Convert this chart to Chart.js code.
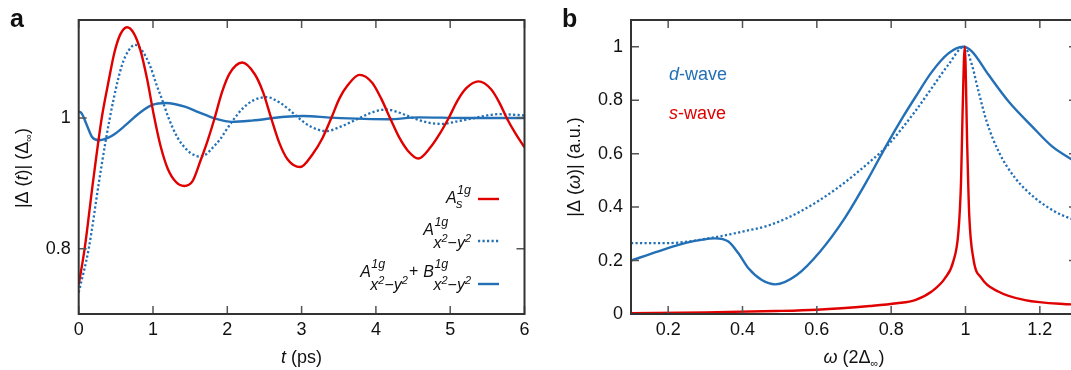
<!DOCTYPE html>
<html>
<head>
<meta charset="utf-8">
<script src="https://cdn.jsdelivr.net/npm/chart.js@4.4.1/dist/chart.umd.min.js"></script>
<style>
  html, body { margin: 0; padding: 0; background: #fff; overflow: hidden; width: 1071px; height: 370px; }
  #wrapA { position: absolute; left: 0; top: 0; width: 540px; height: 370px; }
  #wrapB { position: absolute; left: 540px; top: 0; width: 545px; height: 370px; }
</style>
</head>
<body>
<div id="wrapA"><canvas id="chartA" width="540" height="370"></canvas></div>
<div id="wrapB"><canvas id="chartB" width="545" height="370"></canvas></div>
<script>
// panel a : |Delta(t)| after the quench
const timeRed = [0, 0.08, 0.19, 0.31, 0.40, 0.48, 0.56, 0.65, 0.74, 0.83, 0.92, 1.01, 1.10, 1.20, 1.31, 1.42, 1.53, 1.64, 1.74, 1.83, 1.93, 2.03, 2.20, 2.37, 2.48, 2.59, 2.70, 2.81, 2.98, 3.15, 3.28, 3.40, 3.51, 3.62, 3.78, 3.95, 4.07, 4.19, 4.31, 4.43, 4.57, 4.74, 4.86, 4.98, 5.10, 5.22, 5.38, 5.55, 5.66, 5.76, 5.88, 6.00];
const gapRed = [0.745, 0.80, 0.90, 1.00, 1.055, 1.10, 1.128, 1.139, 1.130, 1.104, 1.060, 1.005, 0.958, 0.922, 0.902, 0.896, 0.903, 0.935, 0.967, 1.00, 1.040, 1.068, 1.085, 1.067, 1.040, 1.00, 0.962, 0.937, 0.925, 0.945, 0.969, 1.00, 1.030, 1.050, 1.066, 1.054, 1.030, 1.00, 0.971, 0.950, 0.938, 0.956, 0.976, 1.00, 1.027, 1.046, 1.056, 1.044, 1.024, 1.00, 0.976, 0.955];

const timeDot = [0, 0.135, 0.27, 0.36, 0.47, 0.58, 0.67, 0.76, 0.86, 0.96, 1.05, 1.12, 1.21, 1.33, 1.45, 1.54, 1.63, 1.72, 1.79, 1.90, 2.00, 2.10, 2.22, 2.35, 2.53, 2.70, 2.82, 2.96, 3.12, 3.33, 3.55, 3.78, 3.96, 4.14, 4.32, 4.50, 4.70, 4.89, 5.10, 5.33, 5.50, 5.67, 5.85, 6.00];
const gapDot = [0.733, 0.80, 0.90, 0.963, 1.029, 1.08, 1.103, 1.112, 1.102, 1.08, 1.050, 1.029, 1.00, 0.970, 0.952, 0.944, 0.941, 0.945, 0.953, 0.967, 0.984, 1.00, 1.016, 1.027, 1.032, 1.024, 1.014, 1.00, 0.987, 0.980, 0.988, 1.00, 1.009, 1.013, 1.008, 1.00, 0.993, 0.991, 0.995, 1.00, 1.004, 1.006, 1.005, 1.004];

const timeMix = [0, 0.04, 0.11, 0.18, 0.27, 0.40, 0.49, 0.63, 0.81, 0.99, 1.17, 1.44, 1.61, 1.84, 2.06, 2.33, 2.78, 3.03, 3.40, 4.16, 4.57, 5.20, 6.00];
const gapMix = [1.010, 1.007, 0.989, 0.971, 0.966, 0.970, 0.976, 0.989, 1.007, 1.020, 1.023, 1.017, 1.009, 0.999, 0.994, 0.996, 1.002, 1.003, 1.0005, 0.998, 1.001, 1.000, 1.000];

const ticksTimeX = [0, 1, 2, 3, 4, 5, 6];
const ticksGapY = [0.8, 1];

// panel b : spectra |Delta(omega)|
const omegaD = [0.10, 0.1735, 0.245, 0.326, 0.362, 0.389, 0.416, 0.452, 0.488, 0.546, 0.609, 0.672, 0.734, 0.788, 0.833, 0.8645, 0.909, 0.954, 0.993, 1.017, 1.062, 1.116, 1.179, 1.233, 1.285, 1.30];
const specD = [0.200, 0.234, 0.265, 0.283, 0.271, 0.227, 0.171, 0.127, 0.111, 0.146, 0.234, 0.352, 0.496, 0.633, 0.740, 0.810, 0.905, 0.975, 1.000, 0.983, 0.895, 0.795, 0.702, 0.627, 0.579, 0.567];

const omegaDot = [0.10, 0.195, 0.326, 0.398, 0.474, 0.564, 0.654, 0.743, 0.79, 0.8645, 0.909, 0.954, 0.997, 1.017, 1.035, 1.057, 1.089, 1.134, 1.188, 1.241, 1.285, 1.30];
const specDot = [0.265, 0.265, 0.287, 0.308, 0.333, 0.390, 0.470, 0.570, 0.630, 0.758, 0.845, 0.933, 1.000, 0.933, 0.833, 0.720, 0.608, 0.508, 0.433, 0.383, 0.356, 0.350];

const omegaS = [0.10, 0.30, 0.488, 0.60, 0.743, 0.815, 0.8645, 0.909, 0.945, 0.967, 0.981, 0.988, 0.992, 0.998, 1.0048, 1.01, 1.021, 1.043, 1.088, 1.16, 1.285, 1.30];
const specS = [0.003, 0.006, 0.011, 0.016, 0.030, 0.040, 0.052, 0.084, 0.134, 0.196, 0.308, 0.496, 0.745, 1.000, 0.620, 0.371, 0.2085, 0.134, 0.084, 0.052, 0.036, 0.035];

const ticksOmegaX = [0.2, 0.4, 0.6, 0.8, 1, 1.2];
const ticksSpecY = [0, 0.2, 0.4, 0.6, 0.8, 1];

const FONT = '"Liberation Sans", Arial, Helvetica, sans-serif';
const RED = '#e00000';
const BLUE = '#2370b6';

function toPoints(xs, ys) {
    return xs.map((x, i) => ({ x: x, y: ys[i] }));
}

function fmt(v) {
    return String(Number(v.toFixed(1)));
}

// text made of several runs (italic, sub/superscripts), returns width
function drawRuns(ctx, runs, x, y, align, draw) {
    let w = 0;
    runs.forEach(r => { ctx.font = r.font; w += ctx.measureText(r.text).width; });
    if (draw === false) return w;
    let cx = align === 'center' ? x - w / 2 : (align === 'right' ? x - w : x);
    runs.forEach(r => {
        ctx.font = r.font;
        ctx.fillText(r.text, cx, y + (r.dy || 0));
        cx += ctx.measureText(r.text).width;
    });
    return w;
}

const subXY = [
    { text: 'x', font: 'italic 16px ' + FONT },
    { text: '2', font: 'italic 11px ' + FONT, dy: -6 },
    { text: '\u2212', font: '16px ' + FONT },
    { text: 'y', font: 'italic 16px ' + FONT },
    { text: '2', font: 'italic 11px ' + FONT, dy: -6 }
];
const subS = [{ text: 's', font: 'italic 13px ' + FONT }];

// A^{1g}_{sub} with stacked indices, returns width
function term(ctx, x, base, letter, sub, subDrop, draw) {
    ctx.font = 'italic 16px ' + FONT;
    const wl = ctx.measureText(letter).width;
    if (draw) ctx.fillText(letter, x, base);
    ctx.font = 'italic 12.5px ' + FONT;
    const wsup = ctx.measureText('1g').width;
    if (draw) ctx.fillText('1g', x + wl + 0.5, base - 9);
    const wsub = drawRuns(ctx, sub, x + wl - 0.5, base + subDrop, 'left', draw);
    return wl + Math.max(wsup + 0.5, wsub - 0.5);
}

function framePlugin(extra) {
    return {
        id: 'frame',
        afterDraw(chart) {
            const ctx = chart.ctx;
            const a = chart.chartArea;
            const sx = chart.scales.x, sy = chart.scales.y;
            ctx.save();
            ctx.strokeStyle = '#555';
            ctx.lineWidth = 1.5;
            ctx.beginPath();
            sx.ticks.forEach(t => {
                const px = sx.getPixelForValue(t.value);
                ctx.moveTo(px, a.bottom); ctx.lineTo(px, a.bottom - 8);
                ctx.moveTo(px, a.top); ctx.lineTo(px, a.top + 8);
            });
            sy.ticks.forEach(t => {
                const py = sy.getPixelForValue(t.value);
                ctx.moveTo(a.left, py); ctx.lineTo(a.left + 8, py);
                ctx.moveTo(a.right, py); ctx.lineTo(a.right - 8, py);
            });
            ctx.stroke();
            ctx.strokeStyle = '#333';
            ctx.lineWidth = 2;
            ctx.strokeRect(a.left, a.top, a.right - a.left, a.bottom - a.top);
            ctx.fillStyle = '#111';
            ctx.textAlign = 'left';
            ctx.textBaseline = 'alphabetic';
            extra(ctx, chart);
            ctx.restore();
        }
    };
}

function axisOpts(min, max, tickList, fitKey, fitSize, pad) {
    return {
        type: 'linear',
        min: min,
        max: max,
        grid: { display: false, drawTicks: false },
        border: { display: false },
        ticks: {
            padding: pad,
            color: '#111',
            font: { family: FONT, size: 18 },
            maxRotation: 0,
            autoSkip: false,
            callback: fmt
        },
        afterBuildTicks: s => { s.ticks = tickList.map(v => ({ value: v })); },
        afterFit: s => { s[fitKey] = fitSize; }
    };
}

function lineSet(xs, ys, color, dashed) {
    return {
        data: toPoints(xs, ys),
        borderColor: color,
        borderWidth: dashed ? 2.3 : 2.4,
        borderDash: dashed ? [2.2, 2.3] : [],
        pointRadius: 0,
        fill: false,
        cubicInterpolationMode: 'monotone'
    };
}

const baseOpts = {
    responsive: false,
    animation: false,
    events: [],
    plugins: { legend: { display: false }, tooltip: { enabled: false } }
};

// ---- panel a ----
function drawExtrasA(ctx, chart) {
    ctx.font = 'bold 25px ' + FONT;
    ctx.fillText('a', 10, 27);

    drawRuns(ctx, [
        { text: 't', font: 'italic 18px ' + FONT },
        { text: ' (ps)', font: '18px ' + FONT }
    ], (chart.chartArea.left + chart.chartArea.right) / 2, 363, 'center');

    ctx.save();
    ctx.translate(22, 168);
    ctx.rotate(-Math.PI / 2);
    drawRuns(ctx, [
        { text: '|\u0394 (', font: '18px ' + FONT },
        { text: 't', font: 'italic 18px ' + FONT },
        { text: ')| (\u0394', font: '18px ' + FONT },
        { text: '\u221e', font: '11px ' + FONT, dy: 4 },
        { text: ')', font: '18px ' + FONT }
    ], 0, 6, 'center');
    ctx.restore();

    // legend
    const R = 471;
    let w = term(ctx, 0, 0, 'A', subS, 5, false);
    term(ctx, R - w, 203, 'A', subS, 5, true);

    w = term(ctx, 0, 0, 'A', subXY, 12.5, false);
    term(ctx, R - w, 235, 'A', subXY, 12.5, true);

    const w1 = term(ctx, 0, 0, 'A', subXY, 13, false);
    const w2 = term(ctx, 0, 0, 'B', subXY, 13, false);
    ctx.font = '16px ' + FONT;
    const wp = ctx.measureText('+').width;
    const x0 = R - (w1 + 1 + wp + 5 + w2);
    term(ctx, x0, 277, 'A', subXY, 13, true);
    ctx.font = '16px ' + FONT;
    ctx.fillText('+', x0 + w1 + 1, 276);
    term(ctx, x0 + w1 + 1 + wp + 5, 277, 'B', subXY, 13, true);

    const samples = [[RED, [], 199], [BLUE, [2.2, 2.3], 241], [BLUE, [], 284]];
    samples.forEach(s => {
        ctx.strokeStyle = s[0];
        ctx.lineWidth = 2.4;
        ctx.setLineDash(s[1]);
        ctx.beginPath();
        ctx.moveTo(478, s[2]);
        ctx.lineTo(499, s[2]);
        ctx.stroke();
    });
    ctx.setLineDash([]);
}

const chartA = new Chart(document.getElementById('chartA'), {
    type: 'line',
    data: {
        datasets: [
            lineSet(timeRed, gapRed, RED, false),
            lineSet(timeMix, gapMix, BLUE, false),
            lineSet(timeDot, gapDot, BLUE, true)
        ]
    },
    options: Object.assign({}, baseOpts, {
        layout: { padding: { left: 0, top: 20, right: 15.5, bottom: 0 } },
        scales: {
            x: axisOpts(0, 6, ticksTimeX, 'height', 56, 5),
            y: axisOpts(0.7, 1.15, ticksGapY, 'width', 78.7, 8)
        }
    }),
    plugins: [framePlugin(drawExtrasA)]
});

// ---- panel b ----
function drawExtrasB(ctx, chart) {
    ctx.font = 'bold 25px ' + FONT;
    ctx.fillText('b', 22, 27);

    drawRuns(ctx, [
        { text: '\u03c9', font: 'italic 18px ' + FONT },
        { text: ' (2\u0394', font: '18px ' + FONT },
        { text: '\u221e', font: '11px ' + FONT, dy: 4 },
        { text: ')', font: '18px ' + FONT }
    ], (chart.chartArea.left + chart.chartArea.right) / 2, 363, 'center');

    ctx.save();
    ctx.translate(34, 167);
    ctx.rotate(-Math.PI / 2);
    drawRuns(ctx, [
        { text: '|\u0394 (', font: '18px ' + FONT },
        { text: '\u03c9', font: 'italic 18px ' + FONT },
        { text: ')| (a.u.)', font: '18px ' + FONT }
    ], 0, 6, 'center');
    ctx.restore();

    ctx.fillStyle = BLUE;
    drawRuns(ctx, [
        { text: 'd', font: 'italic 18px ' + FONT },
        { text: '-wave', font: '18px ' + FONT }
    ], 129, 80, 'left');
    ctx.fillStyle = RED;
    drawRuns(ctx, [
        { text: 's', font: 'italic 18px ' + FONT },
        { text: '-wave', font: '18px ' + FONT }
    ], 129, 119, 'left');
}

const chartB = new Chart(document.getElementById('chartB'), {
    type: 'line',
    data: {
        datasets: [
            lineSet(omegaS, specS, RED, false),
            lineSet(omegaD, specD, BLUE, false),
            lineSet(omegaDot, specDot, BLUE, true)
        ]
    },
    options: Object.assign({}, baseOpts, {
        layout: { padding: { left: 0, top: 20, right: 8, bottom: 0 } },
        scales: {
            x: axisOpts(0.1, 1.3, ticksOmegaX, 'height', 56, 5),
            y: axisOpts(0, 1.1, ticksSpecY, 'width', 91, 8)
        }
    }),
    plugins: [framePlugin(drawExtrasB)]
});
</script>
</body>
</html>
